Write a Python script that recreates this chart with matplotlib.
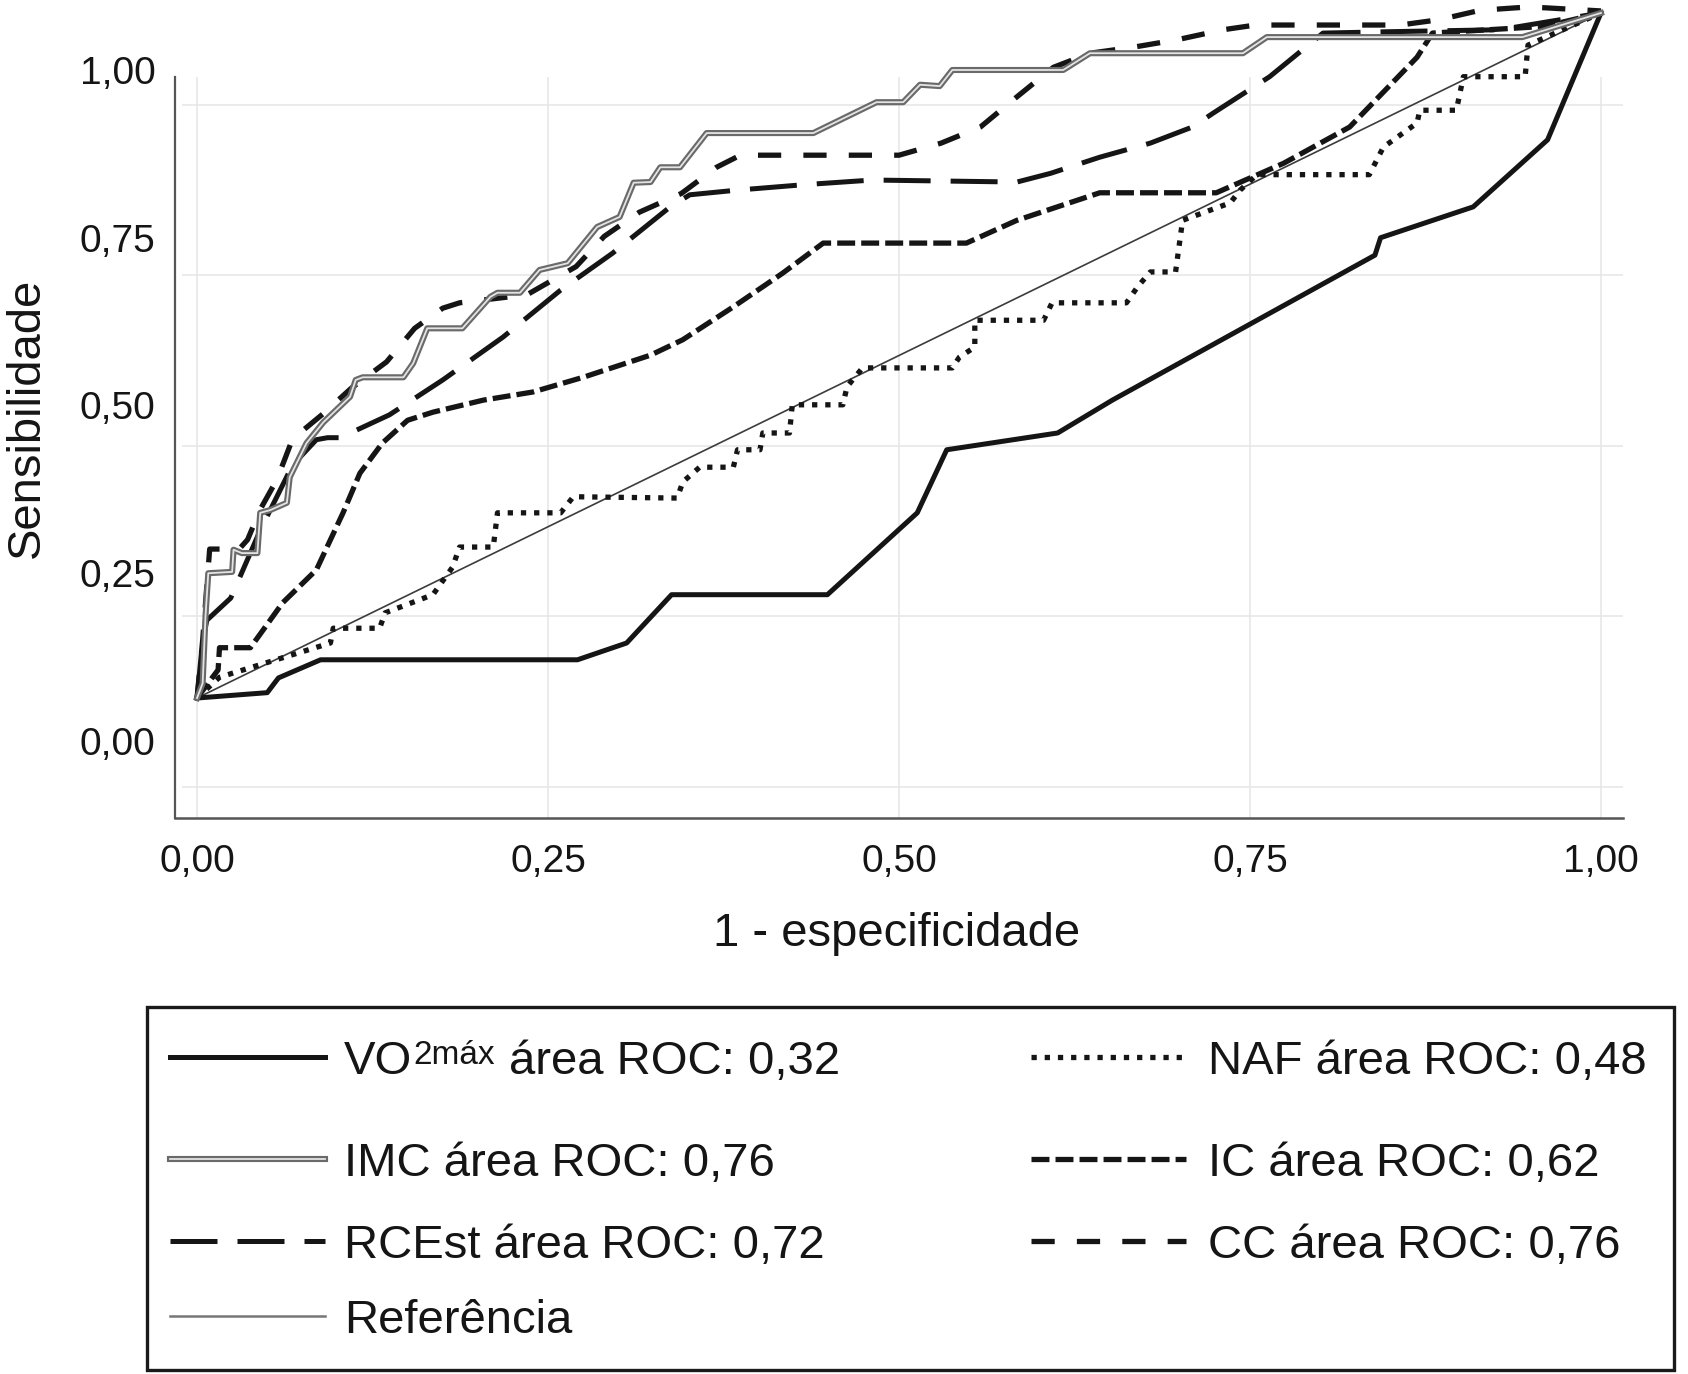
import matplotlib.pyplot as plt
from matplotlib.patches import Rectangle

plt.rcParams['font.family'] = ['Liberation Sans', 'DejaVu Sans']

# Curvas ROC (x = 1 - especificidade, y = sensibilidade)
vo2_x = [0.0, 0.050, 0.058, 0.088, 0.271, 0.306, 0.338, 0.449, 0.513, 0.534,
         0.613, 0.652, 0.839, 0.843, 0.909, 0.962, 1.0]
vo2_y = [0.064, 0.072, 0.094, 0.121, 0.121, 0.146, 0.218, 0.218, 0.340, 0.434,
         0.459, 0.508, 0.724, 0.750, 0.796, 0.896, 1.085]

imc_x = [0.0, 0.004, 0.006, 0.008, 0.025, 0.026, 0.032, 0.043, 0.045, 0.052,
         0.064, 0.066, 0.078, 0.090, 0.109, 0.113, 0.118, 0.147, 0.154, 0.164,
         0.189, 0.209, 0.214, 0.230, 0.244, 0.264, 0.285, 0.301, 0.311, 0.323,
         0.330, 0.344, 0.363, 0.439, 0.484, 0.503, 0.515, 0.529, 0.538, 0.617,
         0.636, 0.745, 0.762, 0.944, 1.0]
imc_y = [0.064, 0.086, 0.185, 0.250, 0.252, 0.285, 0.280, 0.280, 0.340, 0.344,
         0.355, 0.393, 0.444, 0.475, 0.513, 0.538, 0.542, 0.542, 0.563, 0.615,
         0.615, 0.662, 0.668, 0.668, 0.702, 0.712, 0.766, 0.781, 0.832, 0.833,
         0.855, 0.855, 0.906, 0.906, 0.952, 0.952, 0.978, 0.976, 1.000, 1.000,
         1.025, 1.025, 1.049, 1.049, 1.085]

rcest_x = [0.0, 0.004, 0.007, 0.024, 0.045, 0.068, 0.085, 0.093, 0.102, 0.137,
           0.175, 0.218, 0.259, 0.296, 0.337, 0.351, 0.385, 0.432, 0.481, 0.584,
           0.608, 0.643, 0.679, 0.709, 0.724, 0.764, 0.802, 0.848, 0.928, 1.0]
rcest_y = [0.064, 0.150, 0.180, 0.213, 0.314, 0.411, 0.449, 0.452, 0.452, 0.486,
           0.538, 0.602, 0.672, 0.727, 0.796, 0.814, 0.821, 0.829, 0.836, 0.833,
           0.846, 0.870, 0.891, 0.915, 0.936, 0.990, 1.055, 1.057, 1.060, 1.085]

ref_x = [0.0, 1.0]
ref_y = [0.064, 1.085]

naf_x = [0.0, 0.016, 0.095, 0.097, 0.130, 0.134, 0.168, 0.182, 0.187, 0.211,
         0.214, 0.259, 0.268, 0.342, 0.346, 0.358, 0.382, 0.385, 0.401, 0.403,
         0.422, 0.424, 0.460, 0.463, 0.474, 0.538, 0.543, 0.554, 0.554, 0.603,
         0.609, 0.662, 0.670, 0.679, 0.697, 0.702, 0.736, 0.743, 0.755, 0.835,
         0.845, 0.869, 0.871, 0.897, 0.902, 0.946, 0.948, 1.0]
naf_y = [0.064, 0.095, 0.146, 0.168, 0.168, 0.191, 0.218, 0.259, 0.289, 0.289,
         0.340, 0.340, 0.364, 0.362, 0.386, 0.408, 0.408, 0.434, 0.434, 0.459,
         0.459, 0.501, 0.501, 0.528, 0.556, 0.556, 0.572, 0.587, 0.627, 0.627,
         0.653, 0.653, 0.677, 0.699, 0.699, 0.776, 0.802, 0.821, 0.844, 0.844,
         0.885, 0.921, 0.940, 0.940, 0.990, 0.990, 1.037, 1.085]

ic_x = [0.0, 0.015, 0.016, 0.038, 0.061, 0.085, 0.104, 0.116, 0.132, 0.150,
        0.168, 0.204, 0.239, 0.275, 0.323, 0.346, 0.382, 0.417, 0.446, 0.548,
        0.584, 0.643, 0.726, 0.774, 0.821, 0.869, 0.880, 0.960, 1.0]
ic_y = [0.064, 0.106, 0.139, 0.139, 0.206, 0.255, 0.340, 0.399, 0.444, 0.478,
        0.490, 0.508, 0.520, 0.542, 0.575, 0.598, 0.647, 0.697, 0.742, 0.742,
        0.776, 0.817, 0.817, 0.861, 0.915, 1.019, 1.055, 1.065, 1.085]

cc_x = [0.0, 0.004, 0.009, 0.030, 0.036, 0.045, 0.057, 0.068, 0.090, 0.110,
        0.135, 0.155, 0.175, 0.187, 0.235, 0.270, 0.290, 0.315, 0.345, 0.370,
        0.387, 0.500, 0.530, 0.558, 0.584, 0.610, 0.636, 0.667, 0.698, 0.731,
        0.754, 0.857, 0.885, 0.914, 0.949, 1.0]
cc_y = [0.064, 0.150, 0.286, 0.286, 0.300, 0.345, 0.390, 0.450, 0.488, 0.526,
        0.565, 0.615, 0.645, 0.653, 0.665, 0.707, 0.752, 0.788, 0.816, 0.855,
        0.873, 0.873, 0.891, 0.915, 0.960, 1.004, 1.025, 1.034, 1.045, 1.060,
        1.067, 1.067, 1.075, 1.089, 1.094, 1.088]

ticks = [0.0, 0.25, 0.5, 0.75, 1.0]
tick_labels = ['0,00', '0,25', '0,50', '0,75', '1,00']
grid_y = [0.948, 0.694, 0.440, 0.186, -0.068]

# estilos
dark = '#151515'
styles = {
    'vo2': dict(color=dark, lw=3.6, ls='-'),
    'rcest': dict(color=dark, lw=3.6, ls=(0, (9.4, 4))),
    'ref': dict(color='#3c3c3c', lw=1.2, ls='-'),
    'naf': dict(color=dark, lw=3.8, ls=(0, (1, 1.5))),
    'ic': dict(color=dark, lw=3.8, ls=(0, (3.4, 1.15))),
    'cc': dict(color=dark, lw=3.8, ls=(0, (4.4, 4.2))),
}

fig = plt.figure(figsize=(16.88, 13.74), dpi=100)
ax = fig.add_axes([175 / 1688, 556 / 1374, 1448 / 1688, 818 / 1374])
ax.set_xlim(-0.0157, 1.0157)
ax.set_ylim(-0.1148, 1.1043)

# grade
ax.vlines(ticks, -0.1148, 0.99, color='#e6e6e6', lw=1.1, zorder=0)
ax.hlines(grid_y, -0.011, 1.0157, color='#e6e6e6', lw=1.1, zorder=0)

ax.plot(ref_x, ref_y, **styles['ref'])
ax.plot(vo2_x, vo2_y, **styles['vo2'])
ax.plot(naf_x, naf_y, **styles['naf'])
ax.plot(ic_x, ic_y, **styles['ic'])
ax.plot(rcest_x, rcest_y, **styles['rcest'])
ax.plot(cc_x, cc_y, **styles['cc'])
ax.plot(imc_x, imc_y, color='#6a6a6a', lw=4.4)
ax.plot(imc_x, imc_y, color='#e4e4e4', lw=1.3)

ax.set_xticks(ticks, tick_labels)
ax.set_yticks(ticks, tick_labels)
ax.tick_params(length=0, labelsize=28, colors='#151515')
ax.tick_params(axis='x', pad=19)
ax.tick_params(axis='y', pad=14)

for s in ['top', 'right']:
    ax.spines[s].set_visible(False)
ax.spines['left'].set_bounds(-0.1148, 0.99)
ax.spines['left'].set_color('#555555')
ax.spines['left'].set_linewidth(1.6)
ax.spines['bottom'].set_color('#555555')
ax.spines['bottom'].set_linewidth(1.8)

ax.set_xlabel('1 - especificidade', fontsize=34, color='#151515')
ax.set_ylabel('Sensibilidade', fontsize=34, color='#151515')
ax.xaxis.set_label_coords(0.498, -0.1418)
ax.xaxis.label.set_va('center')
ax.yaxis.set_label_coords(-0.1022, 0.489)
ax.yaxis.label.set_va('center')

# legenda desenhada em pixels da figura
leg = fig.add_axes([0, 0, 1, 1])
leg.set_xlim(0, 1688)
leg.set_ylim(1374, 0)
leg.set_axis_off()
leg.patch.set_facecolor('none')

leg.add_patch(Rectangle((147, 1007), 1527, 363, fill=False, lw=2.4, edgecolor='#1a1a1a'))

left_rows = [1057, 1159, 1241, 1316]
right_rows = [1057, 1159, 1241]

def handle(x0, y, key):
    leg.plot([x0, x0 + 155], [y, y], **styles[key])

handle(170, left_rows[0], 'vo2')
leg.plot([170, 325], [left_rows[1]] * 2, color='#6a6a6a', lw=4.4)
leg.plot([170, 325], [left_rows[1]] * 2, color='#e4e4e4', lw=1.3)
handle(170, left_rows[2], 'rcest')
leg.plot([170, 325], [left_rows[3]] * 2, color='#777777', lw=1.8)
handle(1031, right_rows[0], 'naf')
handle(1031, right_rows[1], 'ic')
handle(1031, right_rows[2], 'cc')

fs = 34
t1 = leg.text(344, left_rows[0] + 17, 'VO', fontsize=fs, va='baseline', color='#151515')
t2 = leg.annotate('2máx', xy=(1, 1), xycoords=t1, xytext=(1, 0), textcoords='offset points',
                  fontsize=24, va='top', ha='left', color='#151515')
leg.annotate('área ROC: 0,32', xy=(1, 0), xycoords=(t2, t1), xytext=(10, 0),
             textcoords='offset points', fontsize=fs, va='bottom', ha='left', color='#151515')
leg.text(344, left_rows[1] + 17, 'IMC área ROC: 0,76', fontsize=fs, va='baseline', color='#151515')
leg.text(344, left_rows[2] + 17, 'RCEst área ROC: 0,72', fontsize=fs, va='baseline', color='#151515')
leg.text(344, left_rows[3] + 17, 'Referência', fontsize=fs, va='baseline', color='#151515')
leg.text(1208, right_rows[0] + 17, 'NAF área ROC: 0,48', fontsize=fs, va='baseline', color='#151515')
leg.text(1208, right_rows[1] + 17, 'IC área ROC: 0,62', fontsize=fs, va='baseline', color='#151515')
leg.text(1208, right_rows[2] + 17, 'CC área ROC: 0,76', fontsize=fs, va='baseline', color='#151515')

fig.savefig('out.png', dpi=100)
